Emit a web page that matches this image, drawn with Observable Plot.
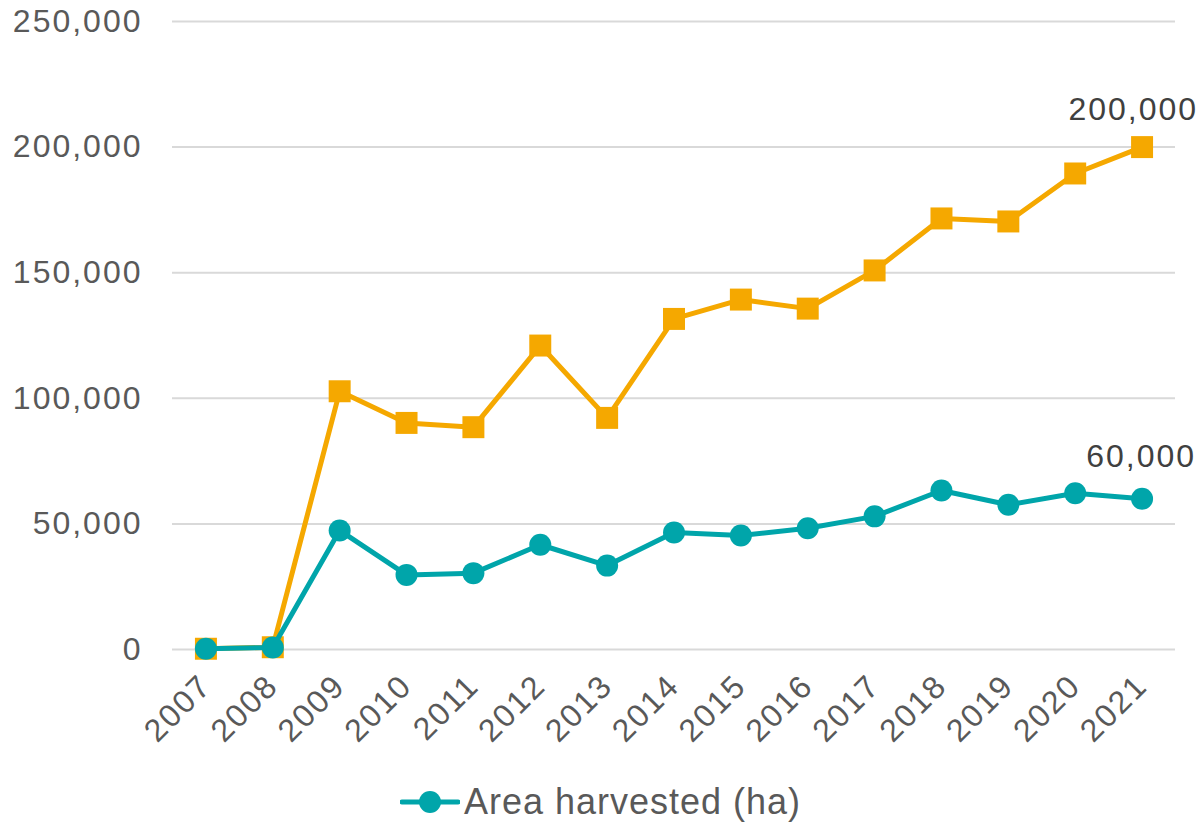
<!DOCTYPE html>
<html>
<head>
<meta charset="utf-8">
<script src="https://cdn.jsdelivr.net/npm/d3@7"></script>
<script src="https://cdn.jsdelivr.net/npm/@observablehq/plot@0.6"></script>
<style>
  html, body { margin: 0; padding: 0; background: #fff; }
  body { width: 1201px; height: 823px; overflow: hidden; font-family: "Liberation Sans", Arial, sans-serif; }
  #chart text { letter-spacing: 2px; }
  #legend { display: flex; justify-content: center; align-items: center; height: 50px; margin-top: 7px; color: #595959; font-size: 36px; letter-spacing: 1px; }
  #legend svg { margin-right: 4px; }
</style>
</head>
<body>
<div id="chart"></div>
<div id="legend"></div>
<script>
const years = ["2007","2008","2009","2010","2011","2012","2013","2014","2015","2016","2017","2018","2019","2020","2021"];
const production = [300, 900, 102800, 90200, 88500, 121000, 92200, 131600, 139300, 135700, 150900, 171600, 170400, 189500, 200000];
const areaHarvested = [300, 800, 47400, 29700, 30400, 41700, 33400, 46600, 45400, 48300, 53000, 63300, 57600, 62200, 60000];
const yTicks = [0, 50000, 100000, 150000, 200000, 250000];
const areaLabel = "Area harvested (ha)";

const orange = "#F5A800";
const teal = "#00A5AA";

const prodData = years.map((y, i) => ({year: y, value: production[i]}));
const areaData = years.map((y, i) => ({year: y, value: areaHarvested[i]}));
const lastProd = [prodData[prodData.length - 1]];
const lastArea = [areaData[areaData.length - 1]];
const fmt = d3.format(",");

const chart = Plot.plot({
  width: 1201,
  height: 770,
  marginLeft: 172,
  marginRight: 26,
  marginTop: 21,
  marginBottom: 121,
  style: {fontFamily: "Liberation Sans, Arial, sans-serif", background: "#fff"},
  x: {type: "point", domain: years, padding: 0.5, round: false},
  y: {domain: [0, 250000]},
  marks: [
    Plot.gridY(yTicks, {stroke: "#d9d9d9", strokeOpacity: 1, strokeWidth: 2}),
    Plot.axisY(yTicks, {tickSize: 0, tickPadding: 30, tickFormat: fmt, fontSize: 32, fill: "#595959", label: null}),
    Plot.axisX({tickSize: 0, tickPadding: 31, tickRotate: -45, fontSize: 32, fill: "#595959", label: null}),
    Plot.line(prodData, {x: "year", y: "value", stroke: orange, strokeWidth: 5}),
    Plot.dot(prodData, {x: "year", y: "value", symbol: "square", r: 12.4, fill: orange, stroke: "none"}),
    Plot.line(areaData, {x: "year", y: "value", stroke: teal, strokeWidth: 5}),
    Plot.dot(areaData, {x: "year", y: "value", symbol: "circle", r: 11, fill: teal, stroke: "none"}),
    Plot.text(lastProd, {x: "year", y: "value", text: d => fmt(d.value), textAnchor: "end", dx: 56, dy: -37, fontSize: 32, fill: "#404040"}),
    Plot.text(lastArea, {x: "year", y: "value", text: d => fmt(d.value), textAnchor: "end", dx: 54, dy: -42, fontSize: 32, fill: "#404040"})
  ]
});
document.getElementById("chart").appendChild(chart);

const legend = document.getElementById("legend");
legend.innerHTML = `<svg width="60" height="30" viewBox="0 0 60 30"><line x1="2" y1="15" x2="58" y2="15" stroke="${teal}" stroke-width="5" stroke-linecap="round"/><circle cx="30" cy="15" r="11" fill="${teal}"/></svg><span>${areaLabel}</span>`;
</script>
</body>
</html>
